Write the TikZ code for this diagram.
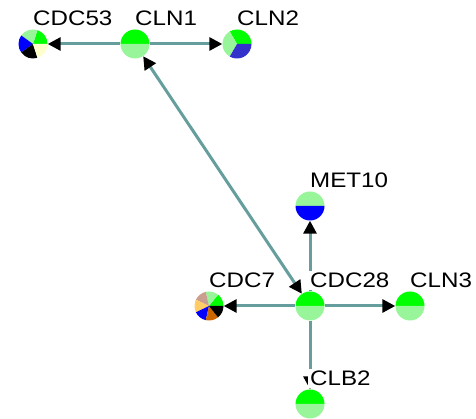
\documentclass[tikz,border=0pt]{standalone}
\usepackage{fontspec}
\newfontfamily\labfont[FakeStretch=1.15]{Liberation Sans}
\usetikzlibrary{arrows.meta}
\definecolor{bgreen}{HTML}{00FF00}
\definecolor{lgreen}{HTML}{99F599}
\definecolor{pblue}{HTML}{0000FF}
\definecolor{mblue}{HTML}{3333CC}
\definecolor{cream}{HTML}{FFFFCC}
\definecolor{rosy}{HTML}{C9A08F}
\definecolor{lorange}{HTML}{FFCC66}
\definecolor{dorange}{HTML}{CC6600}
\definecolor{edgec}{HTML}{669E9E}
\tikzset{
  gene/.style={circle, minimum size=29pt, inner sep=0pt},
  lab/.style={font=\labfont\fontsize{21}{21}\selectfont, fill=white, inner xsep=2pt, inner ysep=2pt, anchor=base west, xshift=-2pt, yshift=18pt},
  edge/.style={draw=edgec, line width=3pt},
  tip/.style={-{Triangle[length=13pt,width=13pt,fill=black,color=black]}},
  bitip/.style={{Triangle[length=13pt,width=13pt,fill=black,color=black]}-{Triangle[length=13pt,width=13pt,fill=black,color=black]}}
}
\newcommand{\mypie}[2]{%
  \foreach \cc/\aa/\bb in {#2}
    \fill[\cc] (#1.center) -- ++(\aa:14.5pt) arc[start angle=\aa, end angle=\bb, radius=14.5pt] -- cycle;
}
\begin{document}
\begin{tikzpicture}[x=1pt,y=1pt]
\useasboundingbox (0,0) rectangle (476,419);
% nodes
\node[gene] (cdc53) at (33,375) {};
\node[gene] (cln1) at (135,375) {};
\node[gene] (cln2) at (237,375) {};
\node[gene] (met10) at (310,213) {};
\node[gene] (cdc7) at (209,113) {};
\node[gene] (cdc28) at (310,113) {};
\node[gene] (cln3) at (410,113) {};
\node[gene] (clb2) at (310,15) {};
% pies
\mypie{cdc53}{bgreen/0/72, lgreen/72/144, pblue/144/216, black/216/288, cream/288/360}
\mypie{cln1}{bgreen/0/180, lgreen/180/360}
\mypie{cln2}{bgreen/0/120, lgreen/120/240, mblue/240/360}
\mypie{met10}{lgreen/0/180, pblue/180/360}
\mypie{cdc7}{bgreen/0/51.43, lgreen/51.43/102.86, rosy/102.86/154.29, lorange/154.29/205.71, pblue/205.71/257.14, dorange/257.14/308.57, black/308.57/360}
\mypie{cdc28}{bgreen/0/180, lgreen/180/360}
\mypie{cln3}{bgreen/0/180, lgreen/180/360}
\mypie{clb2}{bgreen/0/180, lgreen/180/360}
% edges
\draw[edge, tip] (cln1) -- (cdc53);
\draw[edge, tip] (cln1) -- (cln2);
\draw[edge, bitip] (cln1) -- (cdc28);
\draw[edge, tip] (cdc28) -- (met10);
\draw[edge, tip] (cdc28) -- (cdc7);
\draw[edge, tip] (cdc28) -- (cln3);
\draw[edge, tip] (cdc28) -- (clb2);
% labels
\node[lab] (l-cdc53) at (cdc53.center) {CDC53};
\node[lab] (l-cln1) at (cln1.center) {CLN1};
\node[lab] (l-cln2) at (cln2.center) {CLN2};
\node[lab] (l-met10) at (met10.center) {MET10};
\node[lab] (l-cdc7) at (cdc7.center) {CDC7};
\node[lab] (l-cdc28) at (cdc28.center) {CDC28};
\node[lab] (l-cln3) at (cln3.center) {CLN3};
\node[lab] (l-clb2) at (clb2.center) {CLB2};
\end{tikzpicture}
\end{document}
